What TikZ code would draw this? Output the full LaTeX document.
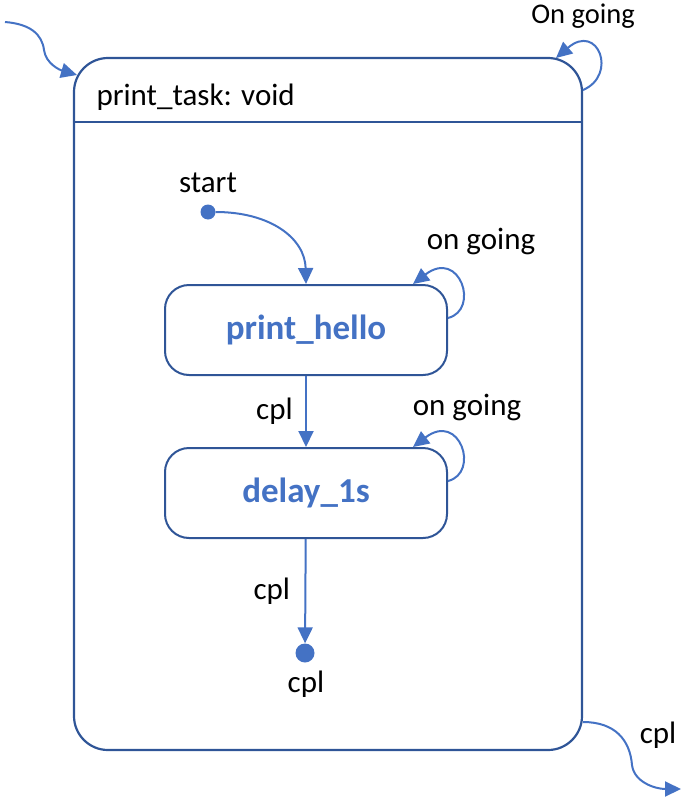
\documentclass[tikz,border=0pt]{standalone}
\usepackage{fontspec}
\setmainfont{Carlito}
\usepackage{tikz}
\usetikzlibrary{arrows.meta}
\definecolor{boxblue}{HTML}{2F5597}
\definecolor{flowblue}{HTML}{4472C4}

\begin{document}
\begin{tikzpicture}[x=1pt, y=-1pt,
    lbl/.style={font=\fontsize{31}{36}\selectfont, text=black},
    state/.style={shape=rectangle, draw=boxblue, line width=2pt, rounded corners=24pt,
      minimum width=282pt, minimum height=90pt, inner sep=0pt,
      font=\fontsize{35}{40}\selectfont\bfseries, text=flowblue},
    dot/.style={shape=circle, fill=flowblue, inner sep=0pt},
    flow/.style={draw=flowblue, line width=2pt, -{Triangle[length=16pt,width=15pt]}}]
      \useasboundingbox (0,0) rectangle (692,803);
      \node (task) [shape=rectangle, draw=boxblue, line width=2.2pt, rounded corners=34pt,
        minimum width=508pt, minimum height=692pt, inner sep=0pt] at (328,404) {};
      \draw [draw=boxblue, line width=2.2pt] (task.west |- 0,122) -- (task.east |- 0,122);
      \node (title) [lbl, anchor=west] at (93,97) {print\_task: void};
      \node (ongoing) [lbl, font=\fontsize{28.5}{33}\selectfont] at (583,16) {On going};
      \coordinate (in0) at (5,22);
      \coordinate (taskin) at (77,75);
      \coordinate (loopout) at (583,90);
      \coordinate (loopin) at (556,58);
      \coordinate (taskout) at (583,722);
      \coordinate (out1) at (681,789);
      \draw [flow] (in0) .. controls (30,24) and (42,34) .. (44,50) .. controls (46,64) and (60,70) .. (taskin);
      \draw [flow] (loopout) .. controls (618,75) and (598,22) .. (loopin);
      \draw [flow] (taskout) .. controls (615,722) and (630,740) .. (632,765) .. controls (634,782) and (655,789) .. (out1);
      \node (exitlbl) [lbl] at (658,735) {cpl};
      % inner states
      \node (start) [dot, minimum size=15pt] at (208,212) {};
      \node (startlbl) [lbl] at (208,183) {start};
      \node (hello) [state] at (306,330) {print\_hello};
      \node (delay) [state] at (306,493) {delay\_1s};
      \node (enddot) [dot, minimum size=19pt] at (305,653) {};
      \node (endlbl) [lbl] at (306,684) {cpl};
      \draw [flow] (start.east) .. controls (270,212) and (305,238) .. (hello.north);
      \draw [flow] ([yshift=12pt]hello.east) .. controls (480,310) and (460,248) .. ([xshift=107pt]hello.north);
      \node (hellolbl) [lbl] at (481,241) {on going};
      \draw [flow] (hello) -- node [lbl, midway, left=9pt] {cpl} (delay);
      \draw [flow] ([yshift=12pt]delay.east) .. controls (480,473) and (460,411) .. ([xshift=107pt]delay.north);
      \node (delaylbl) [lbl] at (467,407) {on going};
      \draw [flow] (delay) -- node [lbl, midway, left=11pt] {cpl} (enddot);
\end{tikzpicture}
\end{document}
